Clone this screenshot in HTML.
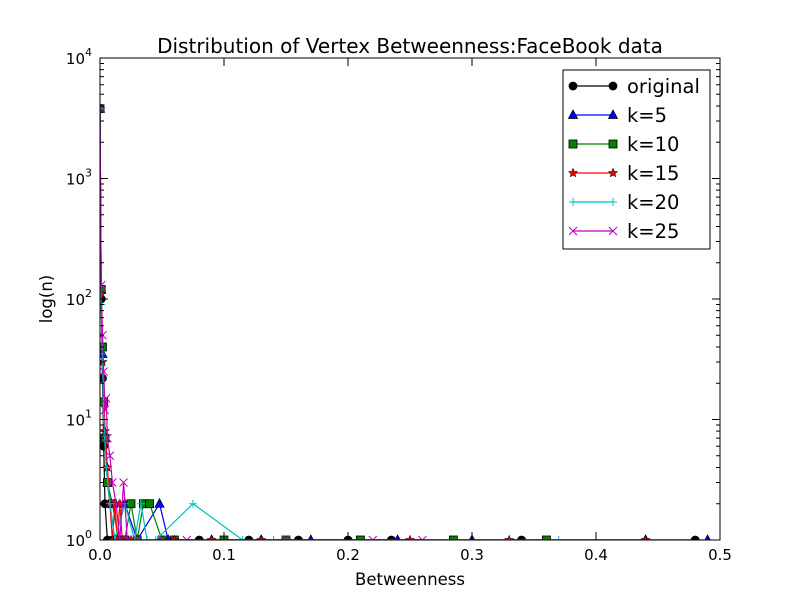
<!DOCTYPE html>
<html><head><meta charset="utf-8"><style>
body{margin:0;background:#fff}
svg{display:block;font-family:"DejaVu Sans","Liberation Sans",sans-serif}
</style></head><body>
<svg id="chart" width="800" height="600">
<rect width="800" height="600" fill="#fff"/>
<text x="410" y="53" text-anchor="middle" font-size="20">Distribution of Vertex Betweenness:FaceBook data</text>
<text x="410" y="585" text-anchor="middle" font-size="16.5">Betweenness</text>
<text x="0" y="0" transform="translate(52,299) rotate(-90)" text-anchor="middle" font-size="16.5">log(n)</text>
<g id="plot"></g>
<g id="axes"></g>
<g id="legend"></g>
</svg>
<script>
const xTicks=[0,0.1,0.2,0.3,0.4,0.5];
const xTickLabels=["0.0","0.1","0.2","0.3","0.4","0.5"];
const yDecades=[0,1,2,3,4];
const seriesNames=["original","k=5","k=10","k=15","k=20","k=25"];
const xOriginal=[0,0.001,0.002,0.003,0.004,0.006,0.01,0.02,0.05,0.08,0.12,0.16,0.2,0.235,0.34,0.48];
const yOriginal=[3800,100,22,6,2,1,1,1,1,1,1,1,1,1,1,1];
const xK5=[0,0.001,0.002,0.004,0.006,0.008,0.012,0.02,0.03,0.048,0.055,0.09,0.13,0.17,0.24,0.3,0.44,0.49];
const yK5=[3800,120,35,7,3,2,1,2,1,2,1,1,1,1,1,1,1,1];
const xK10=[0,0.001,0.002,0.003,0.004,0.006,0.01,0.015,0.02,0.025,0.03,0.035,0.04,0.05,0.06,0.1,0.15,0.21,0.285,0.36];
const yK10=[3800,120,40,14,7,3,2,1,1,2,1,2,2,1,1,1,1,1,1,1];
const xK15=[0,0.001,0.002,0.004,0.006,0.008,0.01,0.012,0.014,0.016,0.018,0.025,0.06,0.09,0.13,0.25,0.33,0.44];
const yK15=[3800,110,30,8,4,2,1,2,1,2,1,1,1,1,1,1,1,1];
const xK20=[0,0.001,0.002,0.003,0.005,0.008,0.012,0.02,0.028,0.033,0.038,0.045,0.075,0.115,0.14,0.37];
const yK20=[3800,90,35,10,4,2,1,2,1,2,1,1,2,1,1,1];
const xK25=[0,0.001,0.002,0.003,0.004,0.005,0.006,0.008,0.01,0.013,0.016,0.019,0.022,0.03,0.05,0.07,0.15,0.22,0.26];
const yK25=[3800,130,50,25,12,15,7,5,3,2,1,3,1,1,1,1,1,1,1];

const L=100,R=720,T=58,B=540;
const X=v=>L+(v-0)/(0.5)*(R-L);
const Y=v=>B-Math.log10(v)/4*(B-T);
const NS="http://www.w3.org/2000/svg";
function mk(tag,attrs,parent){const e=document.createElementNS(NS,tag);for(const k in attrs)e.setAttribute(k,attrs[k]);parent.appendChild(e);return e;}
const plot=document.getElementById('plot'),axes=document.getElementById('axes'),legend=document.getElementById('legend');
const cp=mk('clipPath',{id:'clip'},plot);
mk('rect',{x:L,y:T-6,width:R-L,height:B-T+6},cp);

function marker(g,type,x,y,color){
  let e;
  if(type==='o'){e=mk('circle',{cx:x,cy:y,r:4,fill:color,stroke:'#000','stroke-width':0.8},g);}
  else if(type==='^'){e=mk('polygon',{points:`${x},${y-5} ${x-4.5},${y+3.5} ${x+4.5},${y+3.5}`,fill:color,stroke:'#000','stroke-width':0.8},g);}
  else if(type==='s'){e=mk('rect',{x:x-4,y:y-4,width:8,height:8,fill:color,stroke:'#000','stroke-width':0.8},g);}
  else if(type==='*'){let p=[];for(let i=0;i<10;i++){const r=i%2?2:4.5,a=-Math.PI/2+i*Math.PI/5;p.push((x+r*Math.cos(a)).toFixed(1)+','+(y+r*Math.sin(a)).toFixed(1));}
    e=mk('polygon',{points:p.join(' '),fill:color,stroke:'#000','stroke-width':0.6},g);}
  else if(type==='+'){e=mk('path',{d:`M${x-4},${y}H${x+4}M${x},${y-4}V${y+4}`,stroke:color,'stroke-width':1,fill:'none'},g);}
  else if(type==='x'){e=mk('path',{d:`M${x-4},${y-4}L${x+4},${y+4}M${x-4},${y+4}L${x+4},${y-4}`,stroke:color,'stroke-width':1,fill:'none'},g);}
  return e;
}
const styles=[['#000','o'],['#0000ff','^'],['#008000','s'],['#ff0000','*'],['#00bfbf','+'],['#bf00bf','x']];
const xs=[xOriginal,xK5,xK10,xK15,xK20,xK25],ys=[yOriginal,yK5,yK10,yK15,yK20,yK25];
for(let s=0;s<6;s++){
  const g=mk('g',{'clip-path':'url(#clip)'},plot);
  
  
  const pts=xs[s].map((v,i)=>X(v).toFixed(1)+','+Y(ys[s][i]).toFixed(1)).join(' ');
  const ln=mk('polyline',{points:pts,fill:'none',stroke:styles[s][0],'stroke-width':1.2},g);
  
  
  xs[s].forEach((v,i)=>{const m=marker(g,styles[s][1],X(v),Y(ys[s][i]),styles[s][0]);
    
    });
}
const fr=mk('rect',{x:L,y:T,width:R-L,height:B-T,fill:'none',stroke:'#000','stroke-width':1},axes);


xTicks.forEach((v,i)=>{const x=X(v);
  mk('path',{d:`M${x},${B}V${B-8}M${x},${T}V${T+8}`,stroke:'#000'},axes);
  const t=mk('text',{x:x,y:B+20,'text-anchor':'middle','font-size':15},axes);t.textContent=xTickLabels[i];
  
  });
yDecades.forEach(d=>{const y=Y(Math.pow(10,d));
  mk('path',{d:`M${L},${y}H${L+8}M${R},${y}H${R-8}`,stroke:'#000'},axes);
  const t=mk('text',{x:L-8,y:y+6,'text-anchor':'end','font-size':15},axes);
  
  
  t.innerHTML='10<tspan dy="-8" font-size="11">'+d+'</tspan>';
  if(d<4)for(let m=2;m<10;m++){const ym=Y(m*Math.pow(10,d));mk('path',{d:`M${L},${ym}H${L+4}M${R},${ym}H${R-4}`,stroke:'#000'},axes);}
});
const lb=mk('rect',{x:563,y:70,width:147,height:179,fill:'#fff',stroke:'#000'},legend);


seriesNames.forEach((n,i)=>{const y=86+i*29;
  const g=mk('g',{},legend);
  
  
  mk('path',{d:`M573,${y}H613`,stroke:styles[i][0],'stroke-width':1.2},g);
  marker(g,styles[i][1],573,y,styles[i][0]);marker(g,styles[i][1],613,y,styles[i][0]);
  const t=mk('text',{x:627,y:y+7,'font-size':19.5},g);t.textContent=n;});
</script>
</body></html>
